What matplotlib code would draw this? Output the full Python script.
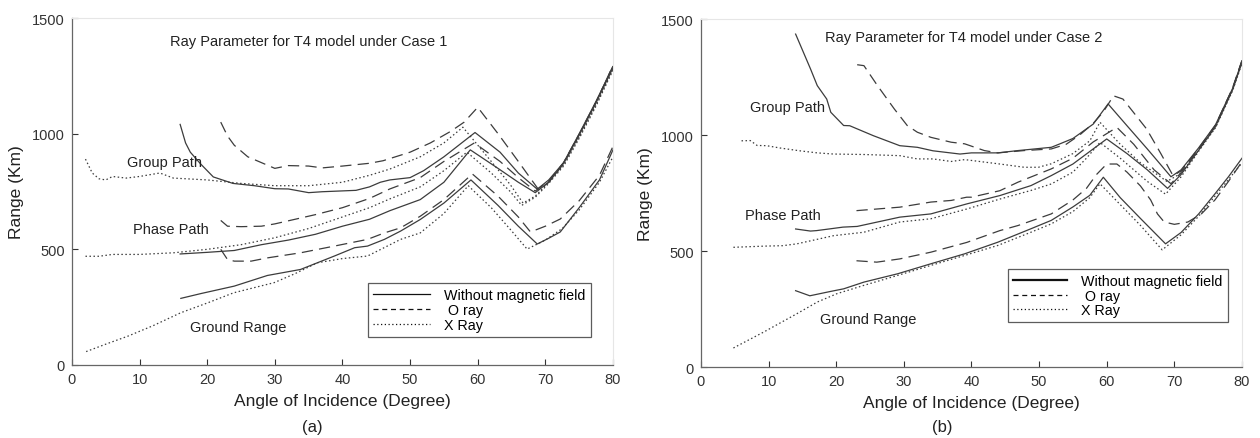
import matplotlib.pyplot as plt
from matplotlib.lines import Line2D

plt.rcParams['font.family'] = ['Liberation Sans', 'DejaVu Sans']

# ---------------- Case 1 (a) ----------------
a_grp_none_x = [16, 16.8, 17.5, 19, 20.9, 23.8, 27, 30, 32, 35, 37, 42, 44, 45.6, 47, 50, 52, 55, 59.6, 63.3, 66, 68.8, 70.5, 72.7, 75.1, 77.5, 80]
a_grp_none_y = [1040, 960, 920, 870, 813, 785, 775, 762, 761, 745, 749, 755, 770, 790, 800, 810, 840, 900, 1005, 920, 830, 760, 800, 875, 1005, 1140, 1290]
a_grp_o_x = [22, 23, 24, 26, 28, 30, 32, 35, 37, 40, 44, 46, 50, 53, 56, 58, 60, 63, 66, 69, 70.5, 72.7, 75.1, 77.5, 80]
a_grp_o_y = [1050, 990, 950, 900, 875, 850, 862, 860, 852, 860, 872, 883, 920, 960, 1010, 1050, 1114, 1000, 880, 758, 790, 870, 1000, 1135, 1295]
a_grp_x_x = [2, 3, 4, 5, 6, 8, 10, 13, 15, 20, 25, 30, 35, 40, 44, 47, 51.5, 55, 57.8, 62, 64.8, 66.7, 68.5, 70.5, 72.7, 75.1, 77.5, 80]
a_grp_x_y = [890, 830, 805, 800, 815, 808, 815, 830, 808, 800, 785, 775, 775, 790, 820, 847, 900, 960, 1028, 880, 780, 700, 730, 790, 865, 990, 1125, 1280]

a_ph_none_x = [16, 20, 24, 28, 32, 36, 40, 44, 47, 51.5, 55, 58.9, 63, 66, 68.5, 70.5, 72.7, 75.1, 77.5, 80]
a_ph_none_y = [480, 487, 495, 520, 540, 565, 600, 630, 667, 715, 790, 930, 850, 790, 745, 790, 872, 1000, 1135, 1285]
a_ph_o_x = [22, 23, 25, 28, 30, 33, 36, 40, 44, 47, 51.5, 55, 59.5, 63.3, 66, 68.5, 70.5, 72.7, 75.1, 77.5, 80]
a_ph_o_y = [625, 600, 598, 600, 610, 630, 650, 680, 720, 761, 810, 880, 960, 880, 810, 752, 795, 875, 1003, 1138, 1292]
a_ph_x_x = [2, 4, 6, 10, 15, 20, 25, 30, 35, 40, 44, 47, 51.5, 55, 58.4, 62, 64.8, 66.5, 68.5, 70.5, 72.7, 75.1, 77.5, 80]
a_ph_x_y = [470, 470, 478, 478, 485, 500, 520, 550, 590, 640, 680, 718, 770, 840, 920, 830, 750, 690, 725, 785, 860, 985, 1120, 1275]

a_gr_none_x = [16.1, 19.1, 24, 28.9, 33.8, 38.8, 41.8, 43.7, 46.2, 48.6, 51.5, 55, 59, 63, 66, 68.8, 70.5, 72.2, 75, 78, 80]
a_gr_none_y = [288, 309, 341, 387, 413, 471, 507, 514, 543, 579, 629, 700, 800, 690, 600, 523, 548, 575, 680, 800, 930]
a_gr_o_x = [22, 23, 24, 26.5, 28.9, 33.8, 38.8, 43.7, 46.2, 48.6, 51.5, 55, 59.2, 63, 66, 67.8, 70, 72.2, 75, 78, 80]
a_gr_o_y = [500, 456, 449, 449, 463, 485, 514, 543, 571, 593, 643, 715, 826, 730, 640, 575, 600, 631, 710, 820, 945]
a_gr_x_x = [2.1, 5, 8.3, 12, 16.1, 20.1, 23.9, 29.9, 33, 36.3, 40, 43.7, 48.6, 51.5, 55, 58.6, 62, 65, 67.3, 70, 72.5, 75, 78, 80]
a_gr_x_y = [58, 90, 125, 170, 226, 269, 312, 356, 395, 442, 460, 471, 543, 571, 655, 775, 680, 580, 501, 540, 590, 670, 790, 900]

# ---------------- Case 2 (b) ----------------
b_grp_none_x = [14, 16.2, 17.2, 18.6, 19.2, 21.1, 22, 25.5, 29.4, 32, 34.3, 38.3, 40, 43.9, 46.9, 51.8, 53, 55, 58, 60.2, 63, 66, 69.5, 71, 73.6, 76.1, 78.6, 80]
b_grp_none_y = [1435, 1285, 1213, 1155, 1098, 1041, 1040, 997, 954, 947, 932, 918, 923, 923, 933, 947, 961, 985, 1047, 1134, 1040, 940, 820, 850, 945, 1045, 1200, 1318]
b_grp_o_x = [23.1, 24.1, 26.1, 28.6, 30.5, 32, 34, 37, 39, 41.9, 43.9, 47.8, 51.8, 54, 56, 58, 59.5, 61, 62.4, 65.9, 68, 69.8, 71, 73.6, 76.1, 78.6, 80]
b_grp_o_y = [1303, 1299, 1213, 1112, 1041, 1012, 990, 969, 962, 933, 923, 933, 940, 960, 1000, 1050, 1100, 1169, 1155, 1026, 920, 825, 845, 942, 1043, 1202, 1322]
b_grp_x_x = [6, 7.3, 8.3, 9.7, 11.7, 14.6, 17.2, 19.6, 24.1, 29.4, 32, 34.3, 37, 39, 44.2, 47.8, 49.9, 51.8, 55, 57.5, 59, 62, 65, 68.9, 71, 73.6, 76.1, 78.6, 80]
b_grp_x_y = [975, 976, 955, 954, 944, 932, 923, 918, 916, 911, 897, 897, 886, 894, 875, 861, 861, 876, 920, 975, 1055, 960, 880, 800, 835, 935, 1035, 1195, 1312]

b_ph_none_x = [14, 16.2, 17.1, 19.2, 21, 23.1, 29.4, 34, 39.3, 44.2, 48.8, 51.8, 55, 58, 60, 63, 66, 69, 71, 73.6, 76.1, 78.6, 80]
b_ph_none_y = [595, 586, 588, 596, 603, 606, 646, 660, 703, 739, 782, 825, 875, 940, 983, 920, 850, 770, 830, 935, 1038, 1195, 1315]
b_ph_o_x = [23, 29.4, 34, 37, 39.3, 40, 44.2, 46.9, 51.8, 55, 58, 61.5, 64, 67, 69.5, 71, 73.6, 76.1, 78.6, 80]
b_ph_o_y = [674, 689, 711, 718, 732, 732, 760, 797, 854, 900, 970, 1033, 960, 850, 790, 838, 940, 1040, 1198, 1320]
b_ph_x_x = [4.8, 9.3, 12.1, 14.2, 19.6, 24.1, 29.4, 34, 39.3, 44.2, 48.8, 51.8, 55, 57, 59, 62, 66, 68.7, 71, 73.6, 76.1, 78.6, 80]
b_ph_x_y = [516, 521, 523, 531, 566, 581, 625, 639, 681, 724, 761, 789, 840, 900, 968, 900, 800, 745, 820, 930, 1032, 1190, 1308]

b_gr_none_x = [14, 16.1, 19.2, 21.1, 24.1, 29.1, 34, 39, 43.9, 48.8, 51.8, 55, 57.5, 59.5, 62, 65, 68.7, 71, 73.6, 76.1, 78, 80]
b_gr_none_y = [329, 307, 326, 337, 366, 402, 445, 488, 538, 596, 632, 690, 740, 818, 730, 640, 531, 580, 660, 750, 820, 900]
b_gr_o_x = [23, 26, 29.4, 34, 39.3, 44.2, 46.9, 51.8, 55, 57, 58.5, 60, 61.5, 63, 65, 66.5, 67.5, 68.5, 70, 72, 74, 76, 78, 80]
b_gr_o_y = [458, 452, 466, 495, 537, 588, 610, 660, 720, 770, 830, 875, 875, 840, 780, 720, 660, 625, 615, 625, 660, 720, 800, 885]
b_gr_x_x = [4.8, 9.3, 14.2, 17.2, 20.1, 24.1, 29.1, 34, 39, 43.9, 48.8, 51.8, 55, 57.5, 59, 62, 65, 68.2, 71, 73.6, 76.1, 80]
b_gr_x_y = [82, 151, 230, 280, 316, 352, 395, 438, 481, 524, 581, 617, 670, 730, 790, 700, 610, 505, 570, 650, 740, 880]

legend_labels = ['Without magnetic field', ' O ray', 'X Ray']

line_col = '#3c3c3c'
st_none = dict(color=line_col, lw=0.9, linestyle='-')
st_o = dict(color=line_col, lw=0.9, linestyle=(0, (9, 5)))
st_x = dict(color=line_col, lw=0.9, linestyle=(0, (1.2, 2)))

fig = plt.figure(figsize=(12.6, 4.39), dpi=100)
ax1 = fig.add_axes([0.0571, 0.1663, 0.4294, 0.7904])
ax2 = fig.add_axes([0.5563, 0.1617, 0.4294, 0.7927])


def draw_panel(ax, curves, title, title_xy, grp_xy, ph_xy, gr_xy, leg_box, legend_lw, hlen):
    for (x, y), st in curves:
        ax.plot(x, y, **st)
    ax.set_xlim(0, 80)
    ax.set_ylim(0, 1500)
    ax.set_xticks(range(0, 81, 10))
    ax.set_yticks([0, 500, 1000, 1500])
    ax.tick_params(direction='in', length=4, labelsize=10.5, colors='#333333', width=0.8, pad=5)
    for s in ['left', 'bottom']:
        ax.spines[s].set_color('#666666')
        ax.spines[s].set_linewidth(0.9)
    for s in ['top', 'right']:
        ax.spines[s].set_color('#e6e6e6')
        ax.spines[s].set_linewidth(0.8)
    ax.set_xlabel('Angle of Incidence (Degree)', fontsize=12.5, color='#222222', labelpad=5)
    ax.set_ylabel('Range (Km)', fontsize=12.5, color='#222222', labelpad=6)
    ax.text(title_xy[0], title_xy[1], title, fontsize=10.5, color='#222222', va='center')
    ax.text(grp_xy[0], grp_xy[1], 'Group Path', fontsize=10.5, color='#222222', va='center')
    ax.text(ph_xy[0], ph_xy[1], 'Phase Path', fontsize=10.5, color='#222222', va='center')
    ax.text(gr_xy[0], gr_xy[1], 'Ground Range', fontsize=10.5, color='#222222', va='center')
    handles = [Line2D([], [], color='#111111', lw=legend_lw, linestyle='-'),
               Line2D([], [], color='#111111', lw=0.9, linestyle=(0, (4, 3))),
               Line2D([], [], color='#111111', lw=0.9, linestyle=(0, (1, 2)))]
    leg = ax.legend(handles, legend_labels, loc='lower left', bbox_to_anchor=leg_box,
                    fontsize=10.3, frameon=True, fancybox=False,
                    handlelength=hlen, handletextpad=1.0, labelspacing=0.05,
                    borderpad=0.35, borderaxespad=0)
    leg.get_frame().set_edgecolor('#333333')
    leg.get_frame().set_linewidth(0.9)


curves_a = [((a_grp_none_x, a_grp_none_y), st_none), ((a_grp_o_x, a_grp_o_y), st_o), ((a_grp_x_x, a_grp_x_y), st_x),
            ((a_ph_none_x, a_ph_none_y), st_none), ((a_ph_o_x, a_ph_o_y), st_o), ((a_ph_x_x, a_ph_x_y), st_x),
            ((a_gr_none_x, a_gr_none_y), st_none), ((a_gr_o_x, a_gr_o_y), st_o), ((a_gr_x_x, a_gr_x_y), st_x)]
curves_b = [((b_grp_none_x, b_grp_none_y), st_none), ((b_grp_o_x, b_grp_o_y), st_o), ((b_grp_x_x, b_grp_x_y), st_x),
            ((b_ph_none_x, b_ph_none_y), st_none), ((b_ph_o_x, b_ph_o_y), st_o), ((b_ph_x_x, b_ph_x_y), st_x),
            ((b_gr_none_x, b_gr_none_y), st_none), ((b_gr_o_x, b_gr_o_y), st_o), ((b_gr_x_x, b_gr_x_y), st_x)]

draw_panel(ax1, curves_a, 'Ray Parameter for T4 model under Case 1', (14.5, 1400),
           (8.1, 877), (9.0, 588), (17.5, 164), (0.547, 0.081), 0.9, 4.0)
draw_panel(ax2, curves_b, 'Ray Parameter for T4 model under Case 2', (18.3, 1422),
           (7.2, 1120), (6.5, 655), (17.6, 207), (0.567, 0.128), 1.6, 3.8)

fig.text(312 / 1260, 1 - 428 / 439, '(a)', fontsize=12, ha='center', va='center', color='#222222')
fig.text(942 / 1260, 1 - 428 / 439, '(b)', fontsize=12, ha='center', va='center', color='#222222')

fig.savefig('out.png', dpi=100, facecolor='white')
